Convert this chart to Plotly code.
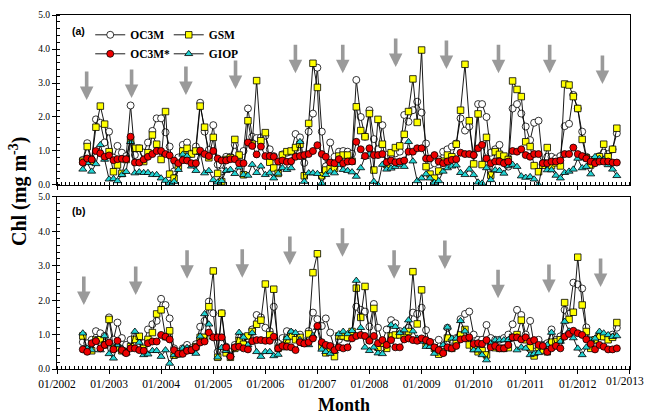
import pandas as pd
import plotly.graph_objects as go

# ---------------- data ----------------
months = pd.date_range("2002-07-01", periods=124, freq="MS")

# Panel (a)
oc3m_a = [
    0.74, 1.23, 0.75, 1.93, 1.83, 1.25,
    1.57, 0.80, 1.15, 0.95, 0.85, 2.34, 0.88, 1.08, 0.95, 1.25, 1.59, 1.96,
    1.96, 1.55, 1.13, 0.40, 0.81, 1.18, 1.25, 0.92, 1.13, 2.42, 1.57, 1.03,
    1.76, 0.60, 0.40, 0.83, 0.83, 1.18, 0.80, 1.00, 2.25, 1.42, 1.38, 1.40,
    1.45, 1.05, 0.85, 0.50, 0.90, 0.95, 0.98, 1.50, 1.40, 0.65, 1.57, 2.10,
    3.45, 1.57, 0.55, 1.25, 0.83, 0.98, 1.00, 0.98, 0.92, 3.09, 2.00, 1.42,
    2.20, 1.35, 1.05, 1.76, 0.88, 0.85, 0.93, 0.98, 2.06, 1.86, 2.20, 2.45,
    2.13, 1.22, 0.59, 0.64, 0.75, 0.98, 1.05, 1.13, 1.22, 1.96, 1.60, 1.72,
    0.88, 2.38, 2.38, 2.00, 0.95, 1.05, 1.18, 0.66, 0.54, 2.25, 2.38, 2.10,
    1.72, 1.32, 1.83, 1.89, 0.64, 0.83, 0.83, 0.78, 0.85, 1.73, 1.80, 2.65,
    2.25, 1.57, 0.83, 0.74, 0.74, 0.85, 0.95, 0.91, 1.05, 1.52,
]
oc3ms_a = [
    0.66, 0.78, 0.75, 1.00, 0.93, 0.83,
    0.87, 0.73, 0.76, 0.77, 0.76, 1.42, 0.66, 0.66, 0.75, 0.83, 0.91, 1.00,
    1.00, 0.91, 0.87, 0.72, 0.64, 0.73, 0.72, 0.64, 0.64, 1.01, 0.91, 0.85,
    1.00, 0.78, 0.72, 0.72, 0.76, 0.76, 0.64, 0.64, 1.25, 1.15, 0.90, 1.13,
    0.85, 0.85, 0.83, 0.69, 0.72, 0.68, 0.70, 0.83, 0.85, 0.88, 0.91, 1.00,
    1.17, 0.91, 0.83, 0.66, 0.64, 0.76, 0.64, 0.69, 0.69, 1.27, 1.05, 0.85,
    1.08, 0.88, 0.88, 0.91, 0.67, 0.72, 0.67, 0.69, 0.72, 0.98, 0.98, 1.08,
    1.08, 0.78, 0.78, 0.88, 0.69, 0.64, 0.69, 0.74, 0.76, 0.95, 0.91, 0.91,
    0.88, 1.08, 1.18, 0.78, 0.64, 0.69, 0.69, 0.64, 0.69, 1.00, 0.98, 1.05,
    0.88, 0.83, 0.91, 0.91, 0.64, 0.64, 0.69, 0.69, 0.72, 0.91, 0.91, 1.10,
    0.91, 0.85, 0.78, 0.69, 0.64, 0.69, 0.69, 0.69, 0.66, 0.66,
]
gsm_a = [
    0.70, 1.13, 0.70, 1.70, 2.32, 1.79,
    0.98, 0.39, 0.59, 0.34, 0.75, 1.32, 1.08, 1.08, 0.69, 0.95, 1.47, 1.20,
    0.75, 2.16, 0.32, 0.20, 0.55, 1.00, 1.08, 0.91, 1.00, 2.32, 1.70, 0.80,
    1.40, 0.34, 0.10, 0.75, 0.80, 1.34, 0.88, 0.30, 1.89, 1.20, 3.07, 1.30,
    1.54, 0.67, 0.50, 0.34, 0.88, 0.98, 1.00, 1.10, 1.20, 0.27, 1.81, 3.58,
    2.87, 0.27, 0.44, 0.49, 0.49, 0.85, 0.88, 0.88, 0.70, 2.30, 1.60, 1.42,
    2.10, 0.44, 1.93, 1.20, 0.60, 0.95, 1.10, 1.15, 1.49, 2.16, 3.12, 1.84,
    3.97, 0.54, 0.32, 0.20, 0.41, 0.70, 0.88, 0.83, 1.20, 2.20, 3.55, 1.89,
    0.62, 2.09, 0.60, 1.40, 0.29, 0.98, 0.90, 0.85, 0.75, 3.06, 2.81, 2.60,
    1.27, 1.13, 0.57, 0.39, 0.58, 1.10, 0.57, 0.65, 0.56, 2.97, 2.94, 2.60,
    2.25, 1.34, 0.80, 0.59, 0.72, 0.83, 1.20, 0.83, 1.05, 1.67,
]
giop_a = [
    0.46, 0.65, 0.40, 0.62, 1.18, 0.75,
    0.17, 0.18, 0.12, 0.30, 0.39, 1.27, 0.35, 0.38, 0.36, 0.36, 0.30, 0.30,
    0.20, 0.13, 0.05, 0.10, 0.45, 0.90, 0.85, 0.55, 0.42, 0.95, 0.35, 0.42,
    0.15, 0.08, 0.12, 0.42, 0.45, 0.33, 0.52, 0.30, 0.28, 0.60, 0.36, 0.55,
    0.30, 0.35, 0.20, 0.34, 0.50, 0.45, 0.50, 0.85, 1.27, 0.10, 0.35, 0.35,
    0.33, 0.05, 0.30, 0.40, 0.35, 0.60, 0.45, 0.42, 0.38, 0.25, 0.50, 0.83,
    0.90, 0.10, 0.00, 0.60, 0.46, 0.49, 0.54, 0.60, 0.54, 1.27, 0.70, 0.12,
    0.20, 0.32, 0.20, 0.07, 0.12, 0.40, 0.50, 0.55, 0.58, 0.36, 0.30, 0.46,
    0.30, 0.08, 0.05, 0.50, 0.15, 0.44, 0.42, 0.34, 0.56, 0.60, 0.54, 0.26,
    0.22, 0.24, 0.17, 0.00, 0.64, 0.44, 0.44, 0.28, 0.20, 0.36, 0.40, 0.46,
    0.78, 0.50, 0.54, 0.32, 0.83, 0.78, 0.75, 0.59, 0.46, 0.27,
]

# Panel (b)
oc3m_b = [
    0.78, 0.75, 0.85, 1.10, 1.04, 0.96,
    1.50, 0.85, 1.35, 0.90, 0.70, 0.85, 0.95, 0.85, 0.75, 1.15, 1.30, 1.40,
    2.04, 1.86, 1.47, 0.60, 0.50, 0.60, 0.70, 0.60, 0.72, 1.23, 1.40, 1.96,
    1.62, 0.50, 1.62, 0.65, 0.50, 0.70, 0.92, 0.92, 0.80, 1.15, 1.57, 1.50,
    1.20, 1.10, 1.81, 0.75, 0.90, 1.10, 1.05, 0.90, 1.00, 0.80, 1.10, 1.64,
    1.45, 1.25, 1.47, 1.06, 0.60, 0.85, 0.95, 0.90, 1.05, 1.81, 1.72, 1.67,
    1.23, 1.89, 1.20, 0.80, 1.15, 1.42, 1.33, 1.10, 0.95, 1.20, 1.64, 1.60,
    1.78, 1.13, 0.70, 0.75, 0.85, 0.60, 1.20, 0.85, 0.90, 1.45, 1.60, 1.67,
    1.00, 0.85, 0.85, 1.28, 0.90, 0.85, 0.85, 0.90, 1.00, 1.30, 1.72, 1.57,
    1.00, 1.40, 0.70, 0.85, 0.70, 0.75, 1.15, 0.85, 0.95, 1.72, 1.60, 2.51,
    2.46, 2.34, 1.21, 0.80, 0.85, 1.00, 0.95, 0.90, 1.00, 1.20,
]
oc3ms_b = [
    0.57, 0.50, 0.75, 0.81, 0.60, 0.70,
    0.77, 0.57, 0.82, 0.55, 0.46, 0.60, 0.60, 0.55, 0.53, 0.75, 0.80, 0.80,
    0.99, 0.94, 0.86, 0.55, 0.44, 0.44, 0.53, 0.55, 0.63, 0.77, 0.80, 1.06,
    0.92, 0.92, 0.92, 0.63, 0.36, 0.63, 0.65, 0.60, 0.57, 0.81, 0.84, 0.84,
    0.82, 0.82, 0.94, 0.60, 0.67, 0.65, 0.63, 0.55, 0.78, 0.74, 0.78, 0.89,
    1.25, 0.78, 0.70, 0.67, 0.55, 0.63, 0.60, 0.63, 0.89, 0.96, 0.99, 0.96,
    0.82, 0.96, 0.75, 0.84, 0.70, 0.84, 0.63, 0.63, 0.86, 0.89, 0.84, 0.82,
    0.89, 0.84, 0.79, 0.63, 0.55, 0.46, 0.63, 0.60, 0.67, 0.86, 0.89, 0.92,
    0.73, 0.75, 0.73, 0.84, 0.63, 0.67, 0.60, 0.60, 0.70, 0.92, 0.92, 0.86,
    0.92, 0.80, 0.84, 0.70, 0.67, 0.50, 0.60, 0.67, 0.60, 0.94, 1.02, 1.11,
    1.04, 0.99, 0.86, 0.73, 0.57, 0.70, 0.65, 0.57, 0.57, 0.60,
]
gsm_b = [
    0.96, 0.55, 0.53, 0.84, 0.85, 0.70,
    1.44, 0.60, 0.62, 0.53, 0.50, 0.65, 0.86, 0.95, 0.60, 0.86, 1.06, 1.60,
    1.72, 0.94, 1.11, 0.40, 0.44, 0.50, 0.57, 0.55, 0.65, 0.92, 0.92, 1.81,
    2.85, 0.34, 1.62, 0.47, 0.34, 0.60, 0.82, 0.72, 0.96, 1.09, 1.30, 1.42,
    2.47, 0.99, 2.32, 0.60, 0.65, 0.85, 0.96, 0.85, 0.92, 0.75, 1.02, 2.80,
    3.35, 0.65, 0.47, 0.60, 0.36, 0.96, 0.96, 0.92, 1.09, 2.35, 1.50, 2.40,
    0.85, 1.76, 0.63, 0.75, 0.60, 0.96, 0.99, 0.99, 0.92, 1.09, 2.83, 1.31,
    2.30, 0.73, 0.73, 0.60, 0.43, 0.50, 0.90, 0.60, 0.80, 0.99, 1.15, 0.70,
    0.60, 0.50, 0.53, 0.41, 0.70, 0.62, 0.60, 0.60, 0.62, 0.92, 1.00, 1.42,
    0.85, 0.62, 0.38, 0.63, 0.55, 0.50, 0.78, 0.80, 0.85, 1.93, 1.44, 1.65,
    3.25, 1.86, 1.09, 0.60, 0.85, 0.95, 0.94, 0.85, 0.92, 1.35,
]
giop_b = [
    1.04, 0.60, 0.55, 0.85, 0.55, 0.96,
    0.44, 0.31, 0.70, 0.60, 0.46, 0.62, 1.09, 0.77, 0.41, 0.43, 0.53, 0.53,
    0.36, 0.55, 0.16, 0.41, 0.45, 0.60, 0.62, 0.50, 0.45, 0.95, 1.60, 1.30,
    0.92, 0.34, 0.62, 0.53, 0.40, 0.63, 1.06, 0.92, 0.70, 1.05, 0.50, 0.36,
    0.50, 0.50, 0.38, 0.42, 0.65, 0.90, 1.09, 1.05, 0.85, 0.75, 0.70, 0.97,
    1.20, 0.57, 0.50, 0.45, 0.52, 1.02, 1.09, 1.02, 1.11, 2.57, 1.20, 0.63,
    0.53, 0.63, 0.46, 0.44, 0.70, 1.28, 1.23, 1.05, 1.13, 1.42, 1.10, 0.89,
    0.80, 0.65, 0.65, 0.45, 0.55, 0.70, 1.21, 0.89, 0.89, 1.40, 1.10, 0.90,
    0.55, 0.55, 0.41, 0.26, 0.75, 0.84, 0.84, 0.84, 0.85, 0.90, 0.55, 0.63,
    0.60, 0.41, 0.44, 0.47, 0.67, 0.70, 1.06, 0.67, 0.80, 1.38, 1.10, 0.90,
    0.60, 0.41, 0.63, 0.84, 0.89, 1.09, 1.04, 0.99, 0.94, 0.96,
]

# Arrow markers (date, value at arrow tip)
arrow_dates_a = ["2002-07-28", "2003-06-08", "2004-06-23", "2005-06-06", "2006-07-31",
                 "2007-06-28", "2008-07-03", "2009-06-24", "2010-06-24", "2011-06-18", "2012-06-22"]
arrow_tip_a = [2.50, 2.56, 2.65, 2.82, 3.29, 3.29, 3.47, 3.41, 3.29, 3.29, 2.97]
arrow_dates_b = ["2002-07-08", "2003-07-07", "2004-07-01", "2005-07-23", "2006-06-22",
                 "2007-06-26", "2008-06-22", "2009-06-13", "2010-06-21", "2011-06-13", "2012-06-09"]
arrow_tip_b = [1.86, 2.15, 2.62, 2.65, 3.02, 3.26, 2.62, 2.91, 2.06, 2.21, 2.38]

series_names = ["OC3M", "GSM", "GIOP", "OC3M*"]
y_ticks = [0, 1, 2, 3, 4, 5]
x_ticks = pd.date_range("2002-01-01", "2013-01-01", freq="YS")
x_tick_labels = [d.strftime("%m/%Y") for d in x_ticks]

# ---------------- styling ----------------
styles = {
    "OC3M": dict(symbol="circle", color="white", size=7, legend="legend"),
    "OC3M*": dict(symbol="circle", color="#ee0000", size=7, legend="legend"),
    "GSM": dict(symbol="square", color="#ffff00", size=6.5, legend="legend2"),
    "GIOP": dict(symbol="triangle-up", color="#22d3d3", size=7, legend="legend2"),
}
panel_a = {"OC3M": oc3m_a, "OC3M*": oc3ms_a, "GSM": gsm_a, "GIOP": giop_a}
panel_b = {"OC3M": oc3m_b, "OC3M*": oc3ms_b, "GSM": gsm_b, "GIOP": giop_b}

fig = go.Figure()
legend_order = {"OC3M": 1, "OC3M*": 2, "GSM": 3, "GIOP": 4}
for panel, (xa, ya, show) in [(panel_a, ("x", "y", True)), (panel_b, ("x2", "y2", False))]:
    for name in series_names:
        st = styles[name]
        fig.add_trace(go.Scatter(
            x=months, y=panel[name], name=name, mode="lines+markers",
            xaxis=xa, yaxis=ya, showlegend=show, legend=st["legend"],
            legendrank=legend_order[name],
            line=dict(color="black", width=0.9),
            marker=dict(symbol=st["symbol"], color=st["color"], size=st["size"],
                        line=dict(color="black", width=0.8)),
            hoverinfo="skip",
        ))

SERIF = "Liberation Serif, Times New Roman, serif"
SANS = "Liberation Sans, Arial, sans-serif"
XTICK_FONT = dict(family=SERIF, size=11.5, color="black")

xcommon = dict(
    type="date", range=["2002-01-01", "2013-01-01 08:00"], automargin=False,
    tickvals=list(x_ticks),
    # the last label would spill past the page edge; it is drawn right-aligned below instead
    ticktext=x_tick_labels[:-1] + [""],
    showline=True, linecolor="black", linewidth=1, mirror=True,
    ticks="outside", ticklen=4, tickcolor="black", tickwidth=1, showgrid=False, zeroline=False,
    minor=dict(ticks="inside", ticklen=3, dtick="M1", tick0="2002-01-01",
               tickcolor="black", tickwidth=0.8, showgrid=False),
    tickfont=XTICK_FONT,
)
ycommon = dict(
    range=[0, 5], tickvals=y_ticks, tickformat=".1f", showline=True, linecolor="black",
    linewidth=1, mirror=True, ticks="outside", ticklen=4, tickcolor="black", tickwidth=1,
    showgrid=False, zeroline=False, automargin=False,
    minor=dict(ticks="inside", ticklen=3, dtick=0.2, tickcolor="black", tickwidth=0.8, showgrid=False),
    tickfont=dict(family=SERIF, size=9.5, color="black"),
)

annotations = [
    dict(text="<b>(a)</b>", xref="paper", yref="paper", x=0.022, y=0.955, showarrow=False,
         xanchor="left", yanchor="middle", font=dict(family=SANS, size=10.5, color="black")),
    dict(text="<b>(b)</b>", xref="paper", yref="paper", x=0.022, y=0.445, showarrow=False,
         xanchor="left", yanchor="middle", font=dict(family=SANS, size=10.5, color="black")),
    dict(text="<b>Chl (mg m<sup>-3</sup>)</b>", xref="paper", yref="paper", x=-0.068, y=0.5,
         textangle=-90, showarrow=False, xanchor="center", yanchor="middle",
         font=dict(family=SERIF, size=20, color="black")),
    dict(text="<b>Month</b>", xref="paper", yref="paper", x=0.5, y=-0.102, showarrow=False,
         xanchor="center", yanchor="middle", font=dict(family=SERIF, size=18, color="black")),
    dict(text=x_tick_labels[-1], xref="x2", yref="paper", x=x_ticks[-1], y=-0.012,
         xanchor="right", yanchor="top", xshift=16, showarrow=False, font=XTICK_FONT),
]
arrow_style = dict(ax=0, ay=-30, showarrow=True, arrowhead=2, arrowsize=0.75,
                   arrowwidth=3.6, arrowcolor="#9a9a9a", text="")
for d, v in zip(arrow_dates_a, arrow_tip_a):
    annotations.append(dict(x=d, y=v, xref="x", yref="y", **arrow_style))
for d, v in zip(arrow_dates_b, arrow_tip_b):
    annotations.append(dict(x=d, y=v, xref="x2", yref="y2", **arrow_style))

legend_font = dict(family=SERIF, size=11.5, color="black", weight="bold")
fig.update_layout(
    width=646, height=416,
    margin=dict(l=57, r=16, t=15, b=47),
    paper_bgcolor="white", plot_bgcolor="white",
    xaxis=dict(domain=[0, 1], anchor="y", showticklabels=False, **xcommon),
    xaxis2=dict(domain=[0, 1], anchor="y2", matches="x", **xcommon),
    yaxis=dict(domain=[0.5198, 1], anchor="x", **ycommon),
    yaxis2=dict(domain=[0, 0.4859], anchor="x2", **ycommon),
    legend=dict(x=0.058, y=0.985, xanchor="left", yanchor="top", bgcolor="rgba(0,0,0,0)",
                font=legend_font, itemwidth=30, tracegroupgap=0),
    legend2=dict(x=0.195, y=0.985, xanchor="left", yanchor="top", bgcolor="rgba(0,0,0,0)",
                 font=legend_font, itemwidth=30, tracegroupgap=0),
    annotations=annotations,
    showlegend=True,
)

# remove the browser's default 8px page margin so the figure sits at the window origin
fig.write_html("out.html", config={"displayModeBar": False},
               post_script="document.body.style.margin='0';")
